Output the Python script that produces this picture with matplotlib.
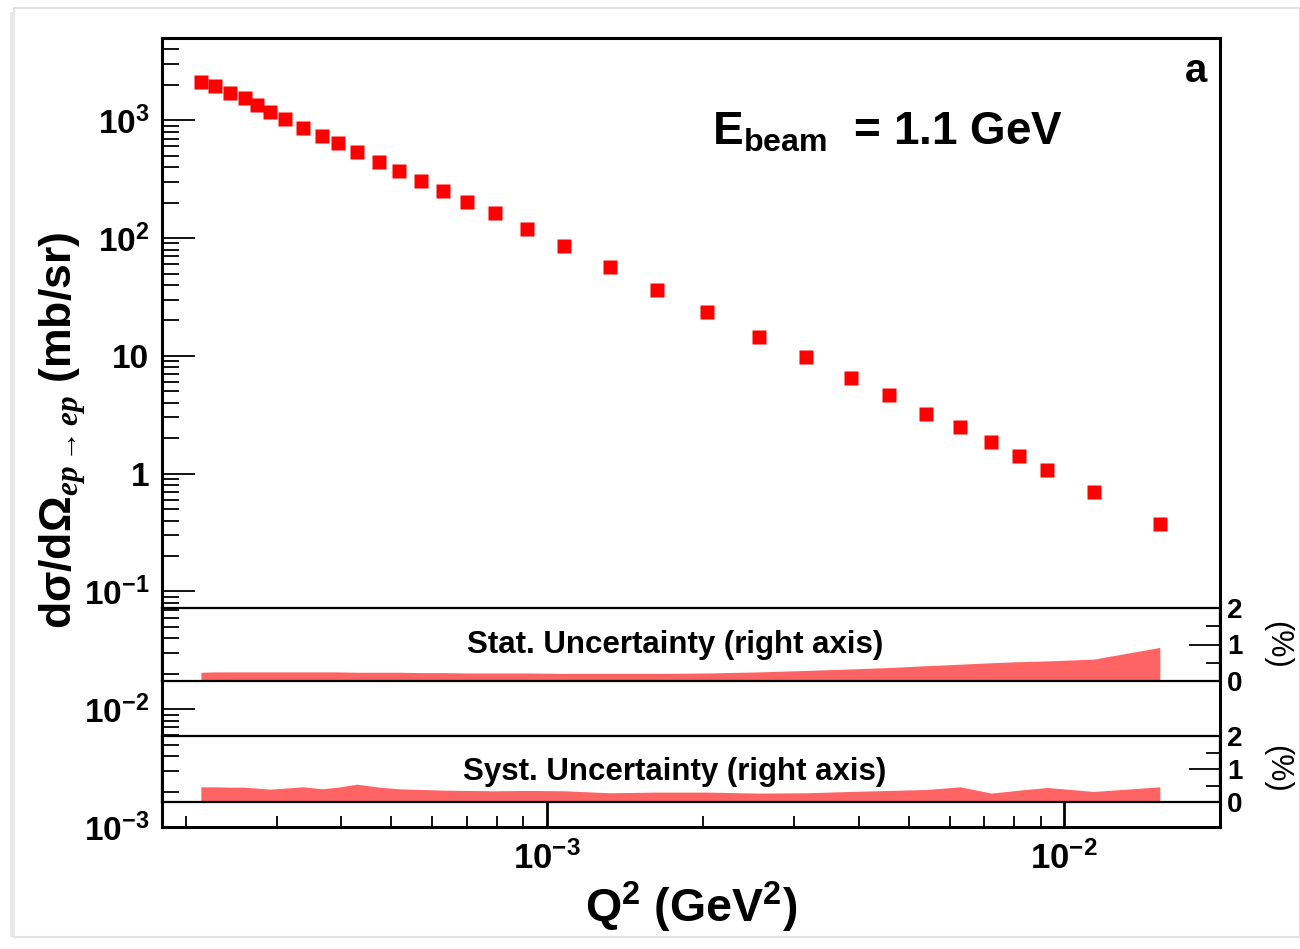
import numpy as np
import matplotlib.pyplot as plt
from matplotlib.patches import Rectangle
from matplotlib.ticker import FixedLocator, NullFormatter, NullLocator

plt.rcParams['font.family'] = ['Liberation Sans', 'DejaVu Sans']
plt.rcParams['font.weight'] = 'bold'
plt.rcParams['mathtext.fontset'] = 'custom'
plt.rcParams['mathtext.rm'] = 'Liberation Sans:bold'
plt.rcParams['mathtext.bf'] = 'Liberation Sans:bold'
plt.rcParams['mathtext.it'] = 'Liberation Serif:italic'
plt.rcParams['mathtext.default'] = 'rm'

# ep -> ep elastic cross section, E_beam = 1.1 GeV
q2 = [2.14e-4, 2.28e-4, 2.44e-4, 2.60e-4, 2.75e-4, 2.91e-4, 3.11e-4, 3.37e-4,
      3.67e-4, 3.94e-4, 4.29e-4, 4.73e-4, 5.17e-4, 5.70e-4, 6.29e-4, 7.00e-4,
      7.93e-4, 9.15e-4, 1.08e-3, 1.32e-3, 1.63e-3, 2.04e-3, 2.57e-3, 3.17e-3,
      3.87e-3, 4.59e-3, 5.41e-3, 6.29e-3, 7.23e-3, 8.19e-3, 9.27e-3, 1.14e-2,
      1.53e-2]
xsec = [2100, 1944, 1696, 1537, 1341, 1169, 1020, 855,
        731, 638, 535, 440, 369, 303, 249, 201,
        162, 119, 85, 56.4, 36.6, 23.4, 14.6, 9.7,
        6.55, 4.61, 3.24, 2.47, 1.84, 1.42, 1.08, 0.705,
        0.377]
# relative uncertainties in %
stat_unc = [0.24, 0.25, 0.25, 0.25, 0.25, 0.25, 0.25, 0.25,
            0.25, 0.25, 0.24, 0.24, 0.24, 0.23, 0.23, 0.22,
            0.22, 0.22, 0.21, 0.21, 0.21, 0.22, 0.25, 0.29,
            0.33, 0.37, 0.42, 0.46, 0.50, 0.53, 0.55, 0.60,
            0.92]
syst_unc = [0.46, 0.46, 0.45, 0.45, 0.42, 0.39, 0.42, 0.46,
            0.40, 0.45, 0.54, 0.45, 0.40, 0.38, 0.36, 0.35,
            0.34, 0.35, 0.34, 0.28, 0.30, 0.30, 0.27, 0.28,
            0.32, 0.35, 0.38, 0.46, 0.27, 0.36, 0.44, 0.32,
            0.46]

y_ticks = [1e-3, 1e-2, 1e-1, 1, 10, 1e2, 1e3]
y_tick_labels = [r'$10^{-3}$', r'$10^{-2}$', r'$10^{-1}$', '1', '10', r'$10^{2}$', r'$10^{3}$']
x_ticks = [1e-3, 1e-2]
x_tick_labels = [r'$10^{-3}$', r'$10^{-2}$']
pct_ticks = [0, 1, 2]

W, H = 1300, 949
fig = plt.figure(figsize=(W / 100, H / 100), dpi=100)

def fx(px):
    return px / W

def fy(py):
    return 1 - py / H

# main pad
ax = fig.add_axes([fx(162), fy(827), fx(1220) - fx(162), fy(38) - fy(827)])
ax.plot(q2, xsec, 's', color='red', ms=10.5, mec='none')
ax.set_xscale('log')
ax.set_yscale('log')
ax.set_xlim(1.8e-4, 2.0e-2)
ax.set_ylim(1e-3, 5e3)
ax.set_yticks(y_ticks, y_tick_labels)
ax.set_xticks(x_ticks, x_tick_labels)
ax.yaxis.set_minor_locator(FixedLocator(
    [m * 10.0 ** e for e in range(-3, 4) for m in range(2, 10)]))
ax.yaxis.set_minor_formatter(NullFormatter())
ax.xaxis.set_minor_locator(FixedLocator(
    [m * 10.0 ** e for e in range(-4, -1) for m in range(2, 10)]))
ax.xaxis.set_minor_formatter(NullFormatter())
ax.tick_params(axis='y', which='major', direction='in', length=24, width=1.3,
               labelsize=24, pad=9, right=False)
ax.tick_params(axis='y', which='minor', direction='in', length=12, width=1.3, right=False)
ax.tick_params(axis='x', which='major', direction='in', length=18, width=2,
               labelsize=25, pad=10, top=False)
ax.tick_params(axis='x', which='minor', direction='in', length=8, width=1.3, top=False)
for s in ax.spines.values():
    s.set_linewidth(2.2)

# uncertainty bands (right axis, %)
bands = [(608, 681, stat_unc, 'Stat. Uncertainty (right axis)', 1),
         (736, 802, syst_unc, 'Syst. Uncertainty (right axis)', 3)]
for top, bot, unc, title, dy in bands:
    bx = fig.add_axes([fx(162), fy(bot), fx(1220) - fx(162), fy(top) - fy(bot)])
    bx.patch.set_alpha(0)
    bx.set_xscale('log')
    bx.set_xlim(ax.get_xlim())
    bx.set_ylim(0, 2)
    bx.fill_between(q2, 0, unc, color='#ff6464', lw=0)
    bx.plot([q2[0], q2[-1]], [0.01, 0.01], color='#b03030', lw=1.5)
    bx.xaxis.set_major_locator(NullLocator())
    bx.xaxis.set_minor_locator(NullLocator())
    bx.yaxis.tick_right()
    bx.set_yticks(pct_ticks)
    bx.set_yticks([0.5, 1.5], minor=True)
    bx.tick_params(axis='y', which='major', direction='in', length=22, width=1.3,
                   labelsize=20, pad=5)
    bx.tick_params(axis='y', which='minor', direction='in', length=10, width=1.3)
    for s in bx.spines.values():
        s.set_linewidth(1.6)
    fig.text(fx(675), fy((top + bot) / 2 + dy), title, ha='center', va='center',
             fontsize=22.5, fontweight='bold')
    fig.text(fx(1277), fy((top + bot) / 2), '(%)', rotation=270, ha='center',
             va='center', fontsize=22, fontweight='normal')

fig.text(fx(63), fy(430), r'd$\sigma$/d$\Omega_{\mathit{ep}\rightarrow \mathit{ep}}$ (mb/sr)',
         rotation=90, ha='center', va='center', fontsize=32, fontweight='bold')
fig.text(fx(691), fy(907), r'Q$^{2}$ (GeV$^{2}$)', ha='center', va='center',
         fontsize=33.5, fontweight='bold')
fig.text(fx(712), fy(145), r'E$_{\mathrm{beam}}$  = 1.1 GeV', ha='left',
         va='baseline', fontsize=33, fontweight='bold')
fig.text(fx(1207), fy(82), 'a', ha='right', va='baseline', fontsize=29,
         fontweight='bold')

# faint frame around the canvas
fig.add_artist(Rectangle((fx(14), fy(937)), fx(1300) - fx(14), fy(8) - fy(937),
                         transform=fig.transFigure, fill=False,
                         edgecolor='#e2e2e2', lw=1.5))
fig.add_artist(Rectangle((fx(10), fy(937)), fx(5), fy(12) - fy(937),
                         transform=fig.transFigure, color='#e8e8e8', lw=0))

fig.savefig('out.png', dpi=100)
